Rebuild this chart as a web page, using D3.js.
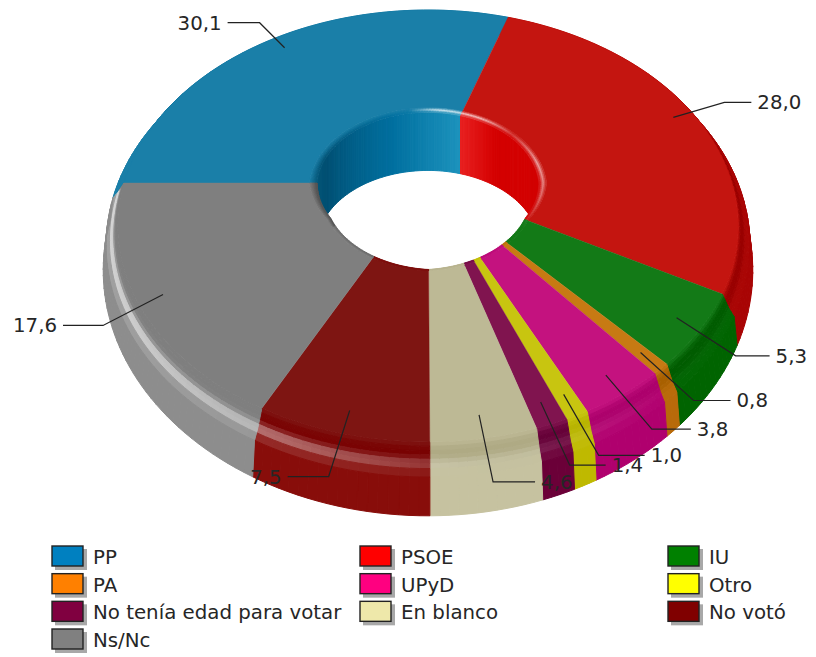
<!DOCTYPE html>
<html><head><meta charset="utf-8">
<script src="https://cdn.jsdelivr.net/npm/d3@7/dist/d3.min.js"></script>
<style>html,body{margin:0;padding:0;background:#fff}svg{display:block}text{font-family:"DejaVu Sans",sans-serif;fill:#262626}</style>
</head><body><svg id="c" width="816" height="657"></svg>
<script>
const categories=["PP","PSOE","IU","PA","UPyD","Otro","No tenía edad para votar","En blanco","No votó","Ns/Nc"];
const values=[30.1,28.0,5.3,0.8,3.8,1.0,1.4,4.6,7.5,17.6];
const valueLabels=["30,1","28,0","5,3","0,8","3,8","1,0","1,4","4,6","7,5","17,6"];
const legendColors=["#0080c0","#ff0000","#008000","#ff8000","#ff0080","#ffff00","#800040","#eee8aa","#800000","#808080"];
const flatColors=["#1a7fa8","#c41510","#137a17","#c77a13","#c4127f","#c8c510","#80144f","#bdb995","#7e1512","#7f7f7f"];
const darkColors=["#0f7099","#990000","#005c00","#a86000","#ad006c","#b8b400","#650037","#aea983","#780000","#7f7f7f"];
const wallColors=["#1a7fa8","#a80404","#006400","#b86a0a","#b0006e","#bfb900","#6b0038","#c6c2a0","#880d0a","#8d8d8d"];
// leader layout: elbow offset from the anchor, then horizontal run (pixels)
const leaderDx=[-25,51,59,53,46,35,29,14,-21,-60];
const leaderDy=[-25,-15,38,48,54,61,63,67,66,31];
const leaderRun=[-32,27,34,37,39,46,36,42,-41,-40];
const legendCols=3;

const cx=428,cy=183,kx=304,by=207.4,persp=0.199,holeDepth=58,anchorR=0.925;
function proj(a,r,z){const u=r*Math.sin(a),v=-r*Math.cos(a),d=1-persp*v;return [cx+kx*u/d,cy+by*v/d+z];}
// outer drop grows toward the viewer
function projOuter(a,r,z){const v=-r*Math.cos(a),d=1-persp*v,s=(0.8/d)*(0.8/d);return proj(a,r,z*s);}
const svg=d3.select("#c");
const pie=d3.pie().sort(null).value(d=>d).startAngle(-Math.PI/2).endAngle(1.5*Math.PI);
const arcs=pie(values);
const line=d3.line();
const deg=a=>((a*180/Math.PI)%360+360)%360;
const absDeg=a=>{const x=deg(a);return x>180?360-x:x;};
const holeR=a=>d3.scaleLinear().domain([0,90,118,180]).range([.365,.365,.35,.385])(absDeg(a));
const bevW=a=>d3.scaleLinear().domain([0,90,118,180]).range([.025,.025,.012,.006])(absDeg(a));
const rBev=a=>holeR(a)+bevW(a);
const hiScale=d3.scaleLinear().domain([0,140,175,200,235,270,285,300,360]).range([0,0,.2,.55,.85,1,.5,0,0]).clamp(true);

function samples(s,e,step){const n=Math.max(2,Math.ceil((e-s)/step));return d3.range(n+1).map(i=>s+(e-s)*i/n);}
const STEP=1.5*Math.PI/180;
const mix=(a,b,t)=>d3.interpolateRgb(a,b)(t);

// outer bevel and wall profile
const profile=[
 {r:1.000,z:0, dark:0,  hi:0, wall:0},
 {r:1.004,z:3, dark:.5, hi:0, wall:0},
 {r:1.008,z:6, dark:1,  hi:0, wall:0},
 {r:1.012,z:9, dark:1,  hi:.05,wall:0},
 {r:1.016,z:12,dark:1,  hi:.4,wall:0},
 {r:1.020,z:15,dark:.8, hi:1, wall:.2},
 {r:1.026,z:18,dark:.4, hi:.4,wall:.6},
 {r:1.036,z:23,dark:0,  hi:0, wall:1},
 {r:1.045,z:58,dark:0,hi:0,wall:1}
];
function stopColor(i,p,a){
  let c=mix(flatColors[i],darkColors[i],p.dark);
  c=mix(c,wallColors[i],p.wall);
  return mix(c,"#ffffff",p.hi*hiScale(deg(a))*0.95);
}
const gBands=svg.append("g");
arcs.forEach((d,i)=>{
  const as=samples(d.startAngle,d.endAngle,STEP);
  d3.pairs(as).forEach(([a0,a1])=>{
    d3.pairs(profile).forEach(([p,q])=>{
      const am=(a0+a1)/2,col=mix(stopColor(i,p,am),stopColor(i,q,am),.5);
      gBands.append("path")
       .attr("d",line([projOuter(a0,p.r,p.z),projOuter(a1,p.r,p.z),projOuter(a1,q.r,q.z),projOuter(a0,q.r,q.z)])+"Z")
       .attr("fill",col).attr("stroke",col).attr("stroke-width",1);
    });
  });
});

// flat top face
svg.append("g").selectAll("path").data(arcs).join("path")
 .attr("d",d=>{
   const as=samples(d.startAngle,d.endAngle,STEP);
   const pts=as.map(a=>proj(a,1,0)).concat(as.slice().reverse().map(a=>proj(a,rBev(a),0)));
   return line(pts)+"Z";})
 .attr("fill",(d,i)=>flatColors[i]).attr("stroke",(d,i)=>flatColors[i]).attr("stroke-width",.4);

// hole
const holeAngles=d3.range(0,361,2).map(x=>x*Math.PI/180);
svg.append("clipPath").attr("id","hole").append("path").attr("d",line(holeAngles.map(a=>proj(a,holeR(a),0)))+"Z");

const innerStops=[
 {dom:[-100,-70,-20,18.4],cols:["#0a5f80","#004f72","#006f9f","#1d93bd"]},
 {dom:[18.4,40,119],cols:["#e82020","#d40000","#d00000"]}
];
function innerColor(i,a){
  let dg=a*180/Math.PI;
  if(i===0||i===1){const s=innerStops[i];return d3.scaleLinear().domain(s.dom).range(s.cols).clamp(true)(dg);}
  if(i===2)return "#0d7512";
  if(i===9)return "#505050";
  return darkColors[i];
}
const gWall=svg.append("g").attr("clip-path","url(#hole)");
arcs.forEach((d,i)=>{
  const s=d.startAngle,e=d.endAngle;
  samples(s,e,STEP).reduce((a0,a1)=>{
    const am=(a0+a1)/2;
    if(Math.cos(am)>-0.18){
      const col=innerColor(i,am);
      gWall.append("path").attr("d",line([proj(a0,holeR(a0),0),proj(a1,holeR(a1),0),proj(a1,holeR(a1),holeDepth),proj(a0,holeR(a0),holeDepth)])+"Z")
       .attr("fill",col).attr("stroke",col).attr("stroke-width",1);
    }
    return a1;
  });
});

// soft bevel round the hole
const rimHi=d3.scaleLinear().domain([-10,5,30,50,75,100,125]).range([0,.8,.7,.2,.6,.4,0]).clamp(true);
const rimSteps=d3.range(0,5);
const gRim=svg.append("g");
arcs.forEach((d,i)=>{
  samples(d.startAngle,d.endAngle,STEP).reduce((a0,a1)=>{
    const am=(a0+a1)/2,dg=am*180/Math.PI;
    const back=Math.cos(am)>-0.55;
    rimSteps.forEach(t=>{
      const rr=(a,k)=>rBev(a)-bevW(a)*k/5,f=(t+.5)/5;
      let col=mix(flatColors[i],innerColor(i,am),back?f:f*f*.5);
      if(i<=2){const peak=1-Math.abs(f-.5)*2;col=mix(col,"#ffffff",rimHi(dg)*peak);}
      gRim.append("path").attr("d",line([proj(a0,rr(a0,t),0),proj(a1,rr(a1,t),0),proj(a1,rr(a1,t+1),0),proj(a0,rr(a0,t+1),0)])+"Z")
        .attr("fill",col).attr("stroke",col).attr("stroke-width",.8);
    });
    return a1;
  });
});

// leaders and value labels
const gLab=svg.append("g");
arcs.forEach((d,i)=>{
  const am=(d.startAngle+d.endAngle)/2,a=proj(am,anchorR,0);
  const b=[a[0]+leaderDx[i],a[1]+leaderDy[i]],c=[b[0]+leaderRun[i],b[1]];
  gLab.append("path").attr("d",line([a,b,c])).attr("fill","none").attr("stroke","#222").attr("stroke-width",1.2);
  const left=leaderRun[i]<0;
  gLab.append("text").attr("x",c[0]+(left?-6:6)).attr("y",c[1]+7).attr("text-anchor",left?"end":"start")
    .attr("font-size",19.8).text(valueLabels[i]);
});

// legend
const legendX=d3.scalePoint().domain(d3.range(legendCols)).range([52,668]);
const legendY=d3.scaleLinear().domain([0,3]).range([546,629]);
const gLeg=svg.append("g");
categories.forEach((name,i)=>{
  const x=legendX(i%legendCols),y=legendY(Math.floor(i/legendCols));
  gLeg.append("rect").attr("x",x+3).attr("y",y+3).attr("width",32).attr("height",21).attr("fill","#a8a8a8");
  gLeg.append("rect").attr("x",x).attr("y",y).attr("width",31).attr("height",20).attr("fill",legendColors[i]).attr("stroke","#222").attr("stroke-width",1.4);
  gLeg.append("text").attr("x",x+41).attr("y",y+18).attr("font-size",19.8).text(name);
});
</script></body></html>
